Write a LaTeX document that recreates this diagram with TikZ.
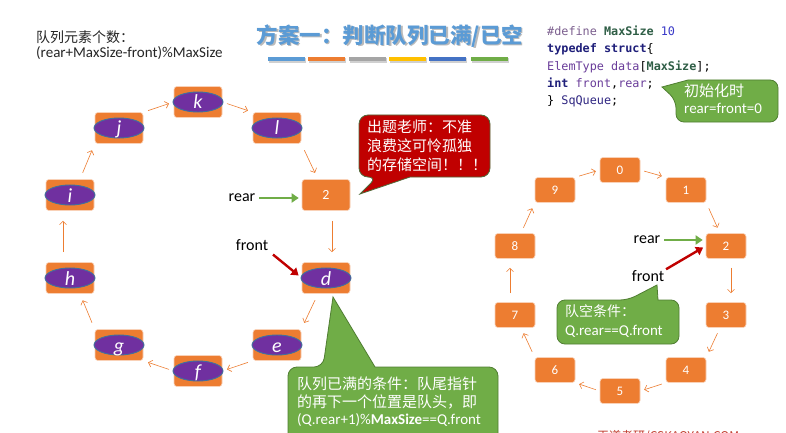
\documentclass[tikz,border=0pt]{standalone}
\usepackage{fontspec}
\setmainfont{Carlito}
\newfontfamily\cjk{Noto Sans CJK SC}
\newfontfamily\codefont{DejaVu Sans Mono}
\usetikzlibrary{arrows.meta,shapes.geometric}

\definecolor{cellorange}{HTML}{ED7D31}
\definecolor{ovalpurple}{HTML}{7030A0}
\definecolor{ovalblue}{HTML}{41719C}
\definecolor{leafgreen}{HTML}{70AD47}
\definecolor{leafedge}{HTML}{507E32}
\definecolor{alarmred}{HTML}{C00000}
\definecolor{alarmedge}{HTML}{4F6B3A}
\definecolor{titleblue}{HTML}{5B9BD5}
\definecolor{barblue}{HTML}{5B9BD5}
\definecolor{barorange}{HTML}{ED7D31}
\definecolor{bargray}{HTML}{A5A5A5}
\definecolor{baryellow}{HTML}{FFC000}
\definecolor{bardeep}{HTML}{4472C4}
\definecolor{bargreen}{HTML}{70AD47}
\definecolor{inktext}{HTML}{262626}
\definecolor{ckey}{HTML}{1F1F7A}
\definecolor{cpre}{HTML}{7B5E8E}
\definecolor{cmac}{HTML}{2F5E46}
\definecolor{cnum}{HTML}{3A3AC8}
\definecolor{cid}{HTML}{6A3D9A}
\definecolor{markred}{HTML}{C0392B}

\tikzset{
  cell/.style={draw=white!65!cellorange, line width=0.6pt, fill=cellorange,
    rounded corners=3pt, minimum width=48pt, minimum height=31pt,
    inner sep=0pt, text=white, font=\fontsize{14}{14}\selectfont},
  rcell/.style={cell, minimum width=40pt, minimum height=25pt,
    font=\fontsize{13}{13}\selectfont},
  oval/.style={ellipse, draw=ovalblue, line width=0.9pt, fill=ovalpurple,
    minimum width=50pt, minimum height=20pt, inner sep=0pt},
  letter/.style={text=white, font=\fontsize{20}{20}\selectfont\itshape,
    inner sep=0pt, anchor=base},
  link/.style={draw=cellorange, line width=0.6pt,
    -{Straight Barb[length=3.5pt,width=7pt]}},
  rearptr/.style={draw=leafgreen, line width=2.6pt,
    -{Triangle[length=7pt,width=9pt]}},
  frontptr/.style={draw=alarmred, line width=2.4pt,
    -{Triangle[length=7pt,width=9pt]}},
  ptrlabel/.style={inner sep=0pt, text=black, font=\fontsize{16}{16}\selectfont},
  greencall/.style={fill=leafgreen, draw=leafedge, line width=0.8pt},
  redcall/.style={fill=alarmred, draw=alarmedge, line width=0.8pt},
  calltext/.style={anchor=north west, align=left, inner sep=0pt, text=white},
  codeline/.style={anchor=base west, inner sep=0pt,
    font=\codefont\fontsize{11.8}{11.8}\selectfont},
}

\begin{document}
\begin{tikzpicture}[x=1pt,y=-1pt]
\useasboundingbox (0,0) rectangle (786,433);
\fill[white] (0,0) rectangle (786,433);

% ---------- heading ----------
\node[text=black!45, opacity=0.6, font=\cjk\bfseries\fontsize{21.5}{21.5}\selectfont]
  (title-shadow) at (391.3,37.3) {方案一：判断队列已满/已空};
\node[text=titleblue, font=\cjk\bfseries\fontsize{21.5}{21.5}\selectfont]
  (title) at (390,36) {方案一：判断队列已满/已空};
\foreach \c/\xa/\xb in {barblue/268/305, barorange/308/345, bargray/349/386,
                        baryellow/389/426, bardeep/429/466, bargreen/471/508} {
  \fill[black!30, opacity=0.6] (\xa+1,58.5) rectangle (\xb+1,63);
  \fill[\c] (\xa,57) rectangle (\xb,61.5);
}

% ---------- element count formula ----------
\node[anchor=west, inner sep=0pt, text=inktext, font=\cjk\fontsize{14}{14}\selectfont]
  (countcap) at (36,37) {队列元素个数：};
\node[anchor=west, inner sep=0pt, text=inktext, font=\fontsize{15}{15}\selectfont]
  (countexpr) at (36,53.5) {(rear+MaxSize-front)\%MaxSize};

% ---------- type definition ----------
\node[codeline] (code1) at (547,36)
  {\textcolor{cpre}{\#define} \textcolor{cmac}{\bfseries MaxSize} \textcolor{cnum}{10}};
\node[codeline] (code2) at (547,53)
  {\textcolor{ckey}{\bfseries typedef struct}\{};
\node[codeline] (code3) at (547,70.5)
  {\textcolor{cid}{ElemType data}[\textcolor{cmac}{\bfseries MaxSize}];};
\node[codeline] (code4) at (547,88)
  {\textcolor{ckey}{\bfseries int} \textcolor{cid}{front},\textcolor{cid}{rear};};
\node[codeline] (code5) at (547,105)
  {\} \textcolor{ckey!80!cid}{SqQueue};};

% init callout
\path[greencall] (688,80) [rounded corners=8pt] -- (778,80) -- (778,122)
  -- (676,122) -- (676,100) [sharp corners] -- (662,87) -- cycle;
\node[calltext, font=\fontsize{15}{17}\selectfont] (initnote) at (684,84)
  {{\cjk 初始化时}\\rear=front=0};

% ---------- full queue ring ----------
\foreach \n/\x/\y in {i/70/195, j/119/128, k/198/102, l/277/128,
                      d/326/278, e/277/345, f/198/371, g/119/345, h/70/278} {
  \node[cell] (\n) at (\x,\y) {};
  \node[oval] (\n-oval) at (\n) {};
  \node[letter] (\n-txt) at (\x,\y+7) {\n};
}
\node[cell] (L2) at (326,195) {2};

\draw[link, shorten <=10pt, shorten >=10pt] ([xshift=-7pt]h.north) -- ([xshift=-7pt]i.south);
\draw[link, shorten <=7pt, shorten >=7pt] ([xshift=10pt]i.north) -- (j.south west);
\draw[link, shorten <=5pt, shorten >=5pt] (j.north east) -- (k.west);
\draw[link, shorten <=5pt, shorten >=5pt] (k.east) -- (l.north west);
\draw[link, shorten <=7pt, shorten >=7pt] (l.south east) -- ([xshift=-8pt]L2.north);
\draw[link, shorten <=10pt, shorten >=10pt] ([xshift=6pt]L2.south) -- ([xshift=6pt]d.north);
\draw[link, shorten <=7pt, shorten >=7pt] ([xshift=-8pt]d.south) -- (e.north east);
\draw[link, shorten <=5pt, shorten >=5pt] (e.south west) -- (f.east);
\draw[link, shorten <=5pt, shorten >=5pt] (f.west) -- (g.south east);
\draw[link, shorten <=7pt, shorten >=7pt] (g.north west) -- ([xshift=10pt]h.south);

\node[ptrlabel] (rearL) at (242,198) {rear};
\draw[rearptr, shorten <=4pt, shorten >=3pt] (rearL.east) -- (rearL.east -| L2.west);
\node[ptrlabel] (frontL) at (252,245) {front};
\draw[frontptr, shorten <=6pt, shorten >=4pt] (frontL.south east) -- (d.west);

% wasted slot remark
\path[redcall] (410,177) [rounded corners=9pt] -- (490,177) -- (490,115)
  -- (359,115) -- (359,177) -- (377,177) [sharp corners] -- (360,194) -- cycle;
\node[calltext, font=\cjk\fontsize{15}{19}\selectfont] (warn) at (367,120)
  {出题老师：不准\\浪费这可怜孤独\\的存储空间！！！};

% full condition remark
\path[greencall] (375,367) [rounded corners=9pt] -- (498,367) -- (498,450)
  -- (288,450) -- (288,367) -- (323,367) [sharp corners] -- (333,297) -- cycle;
\node[calltext, font=\fontsize{15}{17.5}\selectfont] (fullnote) at (297,377)
  {{\cjk 队列已满的条件：队尾指针}\\{\cjk 的再下一个位置是队头，即}\\(Q.rear+1)\%\textbf{MaxSize}==Q.front};

% ---------- empty queue ring ----------
\foreach \n/\x/\y in {0/620/170, 1/686/190, 2/726/246, 3/726/315, 4/686/370,
                      5/620/391, 6/555/370, 7/515/315, 8/515/246, 9/555/190} {
  \node[rcell] (r\n) at (\x,\y) {\n};
}
\draw[link, shorten <=4pt, shorten >=4pt] (r9.north east) -- (r0.west);
\draw[link, shorten <=4pt, shorten >=4pt] (r0.east) -- (r1.north west);
\draw[link, shorten <=6pt, shorten >=6pt] (r1.south east) -- ([xshift=-6pt]r2.north);
\draw[link, shorten <=9pt, shorten >=9pt] ([xshift=5pt]r2.south) -- ([xshift=5pt]r3.north);
\draw[link, shorten <=6pt, shorten >=6pt] ([xshift=-6pt]r3.south) -- (r4.north east);
\draw[link, shorten <=4pt, shorten >=4pt] (r4.south west) -- (r5.east);
\draw[link, shorten <=4pt, shorten >=4pt] (r5.west) -- (r6.south east);
\draw[link, shorten <=6pt, shorten >=6pt] (r6.north west) -- ([xshift=6pt]r7.south);
\draw[link, shorten <=9pt, shorten >=9pt] ([xshift=-5pt]r7.north) -- ([xshift=-5pt]r8.south);
\draw[link, shorten <=6pt, shorten >=6pt] ([xshift=6pt]r8.north) -- (r9.south west);

\node[ptrlabel] (rearR) at (647,240) {rear};
\draw[rearptr, shorten <=4pt, shorten >=3pt] (rearR.east) -- (rearR.east -| r2.west);
\node[ptrlabel] (frontR) at (648,276) {front};
\draw[frontptr, shorten <=2pt, shorten >=3pt] (frontR.north east) -- (r2.west);

% empty condition remark
\path[greencall] (658,300) [rounded corners=8pt] -- (679,300) -- (679,344)
  -- (557,344) -- (557,300) -- (628,300) [sharp corners] -- (657,285) -- cycle;
\node[calltext, font=\fontsize{15}{19}\selectfont] (emptynote) at (565,304)
  {{\cjk\fontsize{14}{19}\selectfont 队空条件：}\\Q.rear==Q.front};

% footer mark, running off the lower edge
\node[anchor=north west, inner sep=0pt, text=markred, font=\cjk\fontsize{12}{12}\selectfont]
  (mark) at (597,430) {王道考研/CSKAOYAN.COM};
\end{tikzpicture}
\end{document}
